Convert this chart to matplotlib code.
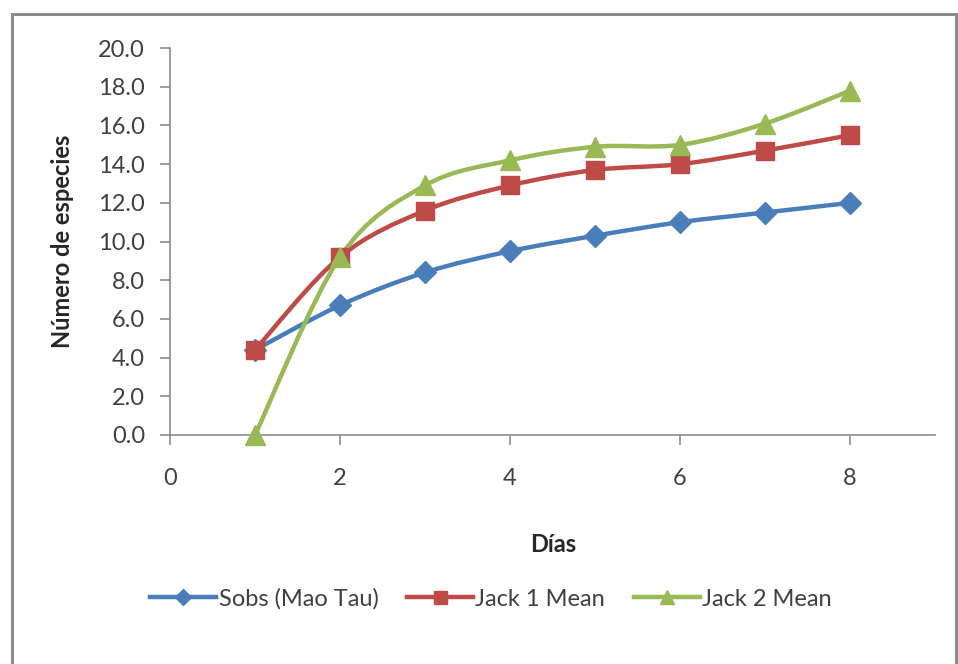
import matplotlib
matplotlib.use("Agg")
import matplotlib.pyplot as plt
import numpy as np
from matplotlib.path import Path
from matplotlib.patches import PathPatch, Rectangle
from matplotlib.lines import Line2D

plt.rcParams['font.family'] = ['Lato', 'DejaVu Sans']

dias = [1, 2, 3, 4, 5, 6, 7, 8]
sobs = [4.4, 6.7, 8.4, 9.5, 10.3, 11.0, 11.5, 12.0]
jack1 = [4.4, 9.2, 11.6, 12.9, 13.7, 14.0, 14.7, 15.5]
jack2 = [0.0, 9.2, 12.9, 14.2, 14.9, 15.0, 16.1, 17.8]

series = [
    ("Sobs (Mao Tau)", sobs, "#4a7ebb", "D", 11.5),
    ("Jack 1 Mean", jack1, "#be4b48", "s", 13),
    ("Jack 2 Mean", jack2, "#98b954", "^", 14),
]


def smooth_path(x, y):
    # bezier segments with catmull-rom style tangents, like spreadsheet smoothed lines
    pts = np.column_stack([x, y]).astype(float)
    n = len(pts)
    verts = [pts[0]]
    codes = [Path.MOVETO]
    for i in range(n - 1):
        p0 = pts[i - 1] if i > 0 else pts[i]
        p1 = pts[i]
        p2 = pts[i + 1]
        p3 = pts[i + 2] if i + 2 < n else pts[i + 1]
        c1 = p1 + (p2 - p0) / 6.0
        c2 = p2 - (p3 - p1) / 6.0
        verts += [c1, c2, p2]
        codes += [Path.CURVE4] * 3
    return Path(verts, codes)


fig = plt.figure(figsize=(9.58, 6.64), dpi=100)
ax = fig.add_axes([0.1775, 0.345, 0.7985, 0.5825])

fs = 17

handles = []
for name, vals, color, mk, ms in series:
    patch = PathPatch(smooth_path(dias, vals), facecolor='none', edgecolor=color,
                      lw=3.2, capstyle='round', joinstyle='round', zorder=2)
    ax.add_patch(patch)
    ax.plot(dias, vals, linestyle='none', marker=mk, markersize=ms, color=color,
            markeredgecolor=color, zorder=3, clip_on=False)
    handles.append(Line2D([], [], color=color, lw=3.2, marker=mk,
                          markersize=ms * 0.72, label=name))

ax.set_xlim(0, 9)
ax.set_ylim(0, 20)
ax.set_xticks([0, 2, 4, 6, 8])
ax.set_yticks(np.arange(0, 21, 2))
ax.yaxis.set_major_formatter(matplotlib.ticker.FormatStrFormatter('%.1f'))

for side in ['top', 'right']:
    ax.spines[side].set_visible(False)
for side in ['left', 'bottom']:
    ax.spines[side].set_color('#8c8c8c')
    ax.spines[side].set_linewidth(1.2)
ax.tick_params(axis='both', colors='#8c8c8c', length=7, width=1.2,
               labelcolor='#404040', labelsize=fs)
ax.tick_params(axis='x', pad=17)
ax.tick_params(axis='y', pad=11)

fig.text(0.065, 0.637, 'Número de especies', rotation=90, ha='center', va='center',
         fontsize=fs, fontweight='bold', color='#262626')
fig.text(0.577, 0.18, 'Días', ha='center', va='center',
         fontsize=fs, fontweight='bold', color='#262626')

fig.legend(handles=handles, loc='center', bbox_to_anchor=(0.5125, 0.098), ncol=3,
           frameon=False, fontsize=fs, handlelength=2.8, handletextpad=0.1,
           columnspacing=1.2, labelcolor='#404040')

fig.patches.append(Rectangle((12 / 958, -0.05), 944 / 958, 1.05 - 14 / 664,
                             transform=fig.transFigure, fill=False,
                             edgecolor='#8c8c8c', lw=2.2, clip_on=False))

fig.savefig('out.png', dpi=100)
